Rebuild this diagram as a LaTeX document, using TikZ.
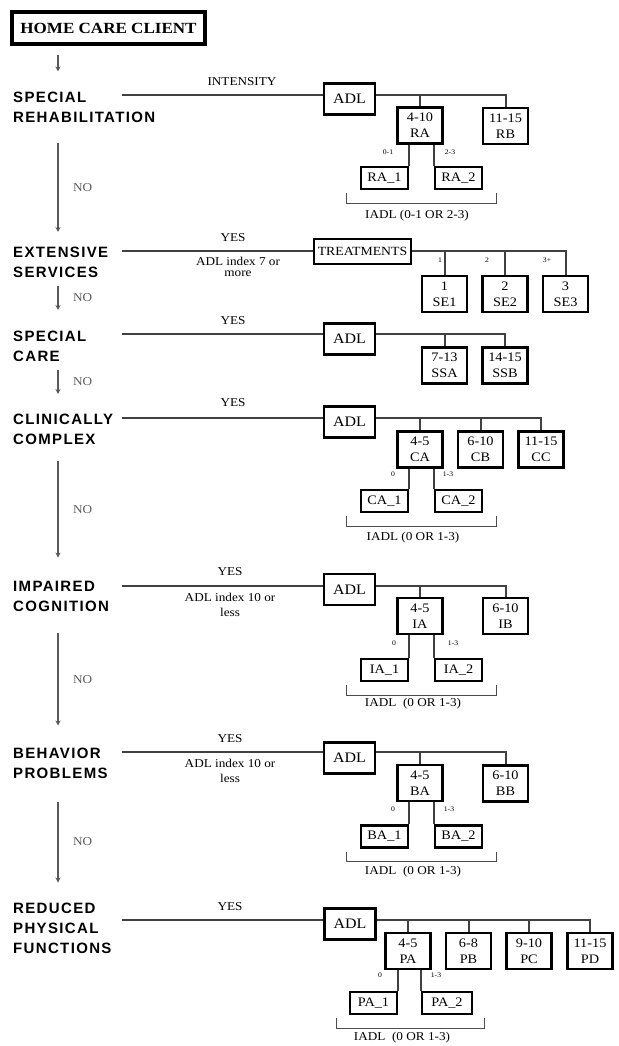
\documentclass[tikz,border=0pt]{standalone}
\usepackage{fontspec}
\setmainfont{Liberation Serif}[FakeStretch=1.1]
\newfontfamily\catfont{Liberation Sans}[LetterSpace=9]
\usetikzlibrary{arrows.meta, positioning, calc}
\tikzstyle{catlab} = [anchor=west, inner sep=0pt, align=left, font=\catfont\bfseries\fontsize{15}{20}\selectfont]
\tikzstyle{grpbox} = [rectangle, draw, line width=2.6pt, inner sep=0pt, minimum width=45pt, minimum height=36pt, align=center, font=\fontsize{13}{16}\selectfont]
\tikzstyle{subbox} = [grpbox, minimum width=47pt, minimum height=22pt]
\tikzstyle{adlbox} = [grpbox, minimum width=51pt, minimum height=31pt, font=\fontsize{14.5}{17}\selectfont]
\tikzstyle{note} = [inner sep=0pt, align=center, font=\fontsize{12}{14}\selectfont]
\tikzstyle{tinylab} = [inner sep=0pt, font=\fontsize{7}{8}\selectfont]
\tikzstyle{link} = [black!75, line width=2pt]
\tikzstyle{flow} = [black!65, line width=2pt, -{Stealth[length=5pt, width=5pt]}]
\tikzstyle{iadl} = [black!70, line width=1.3pt]

\begin{document}
\begin{tikzpicture}[x=1pt, y=-1pt]
    \useasboundingbox (0,0) rectangle (618,1046);

    % Client and categories
    \node[draw, line width=4pt, inner sep=0pt, minimum width=193pt, minimum height=32pt, font=\bfseries\fontsize{15.5}{18}\selectfont] (home) at (108.5,28) {HOME CARE CLIENT};
    \node[catlab] (rehab) at (13,107) {SPECIAL\\REHABILITATION};
    \node[catlab] (ext) at (13,262.5) {EXTENSIVE\\SERVICES};
    \node[catlab] (spc) at (13,346.5) {SPECIAL\\CARE};
    \node[catlab] (cli) at (13,429.5) {CLINICALLY\\COMPLEX};
    \node[catlab] (imp) at (13,596) {IMPAIRED\\COGNITION};
    \node[catlab] (beh) at (13,763) {BEHAVIOR\\PROBLEMS};
    \node[catlab] (red) at (13,928) {REDUCED\\PHYSICAL\\FUNCTIONS};

    % NO arrows
    \draw[flow] ([xshift=48pt,yshift=-9pt]home.south west) -- ([xshift=45pt,yshift=20pt]rehab.north west);
    \draw[flow] ([xshift=45pt,yshift=-20pt]rehab.south west) -- ([xshift=45pt,yshift=15pt]ext.north west) node[note, midway, right=14pt] (no1) {NO};
    \draw[flow] ([xshift=45pt,yshift=-8pt]ext.south west) -- ([xshift=45pt,yshift=21pt]spc.north west) node[note, midway, right=14pt] (no2) {NO};
    \draw[flow] ([xshift=45pt,yshift=-8pt]spc.south west) -- ([xshift=45pt,yshift=20pt]cli.north west) node[note, midway, right=14pt] (no3) {NO};
    \draw[flow] ([xshift=45pt,yshift=-16pt]cli.south west) -- ([xshift=45pt,yshift=23pt]imp.north west) node[note, midway, right=14pt] (no4) {NO};
    \draw[flow] ([xshift=45pt,yshift=-22pt]imp.south west) -- ([xshift=45pt,yshift=22pt]beh.north west) node[note, midway, right=14pt] (no5) {NO};
    \draw[flow] ([xshift=45pt,yshift=-23pt]beh.south west) -- ([xshift=45pt,yshift=20pt]red.north west) node[note, midway, right=14pt] (no6) {NO};

    % Special rehabilitation
    \coordinate (rR) at (122,95);
    \node[note] (intR) at (242,82) {INTENSITY};
    \node[adlbox] (adlR) at (349.5,99) {ADL};
    \node[grpbox] (ra) at (420,125.5) {4-10\\RA};
    \node[grpbox] (rb) at (505.5,126) {11-15\\RB};
    \node[subbox] (ra1) at (384.5,178) {RA\_1};
    \node[subbox] (ra2) at (458.5,178) {RA\_2};
    \node[tinylab] (ra1t) at (388,152) {0-1};
    \node[tinylab] (ra2t) at (450,152) {2-3};
    \draw[link] (rR) -- (rR -| adlR.west);
    \draw[link] (rR -| adlR.east) -| (rb.north);
    \draw[link] (rR -| ra.north) -- (ra.north);
    \draw[link] (ra.south -| ra1.north east) -- (ra1.north east);
    \draw[link] (ra.south -| ra2.north west) -- (ra2.north west);
    \draw[iadl] ([shift={(-13pt,-3pt)}]ra1.south west) -- ++(0,10) -| ([shift={(13pt,-3pt)}]ra2.south east);
    \node[note] (iadlR) at (417,216) {IADL (0-1 OR 2-3)};

    % Extensive services
    \coordinate (rE) at (122,251);
    \node[note] (yesE) at (233,238) {YES};
    \node[note, font=\fontsize{12}{11}\selectfont] (idxE) at (238,266.5) {ADL index 7 or\\more};
    \node[grpbox, minimum width=97pt, minimum height=25pt, font=\fontsize{12.5}{14}\selectfont] (treat) at (362.5,251.5) {TREATMENTS};
    \node[grpbox] (se1) at (444.5,294) {1\\SE1};
    \node[grpbox] (se2) at (505,294) {2\\SE2};
    \node[grpbox] (se3) at (565.5,294) {3\\SE3};
    \node[tinylab] (se1t) at (440,260) {1};
    \node[tinylab] (se2t) at (487,260) {2};
    \node[tinylab] (se3t) at (547,260) {3+};
    \draw[link] (rE) -- (rE -| treat.west);
    \draw[link] (rE -| treat.east) -| (se3.north);
    \draw[link] (rE -| se1.north) -- (se1.north);
    \draw[link] (rE -| se2.north) -- (se2.north);

    % Special care
    \coordinate (rS) at (122,334);
    \node[note] (yesS) at (233,321) {YES};
    \node[adlbox] (adlS) at (349.5,339) {ADL};
    \node[grpbox] (ssa) at (444.5,365.5) {7-13\\SSA};
    \node[grpbox] (ssb) at (505,365.5) {14-15\\SSB};
    \draw[link] (rS) -- (rS -| adlS.west);
    \draw[link] (rS -| adlS.east) -| (ssb.north);
    \draw[link] (rS -| ssa.north) -- (ssa.north);

    % Clinically complex
    \coordinate (rC) at (122,418);
    \node[note] (yesC) at (233,403) {YES};
    \node[adlbox] (adlC) at (349.5,422) {ADL};
    \node[grpbox] (ca) at (420,449.5) {4-5\\CA};
    \node[grpbox] (cb) at (480.5,449.5) {6-10\\CB};
    \node[grpbox] (cc) at (541,449.5) {11-15\\CC};
    \node[subbox] (ca1) at (384.5,501) {CA\_1};
    \node[subbox] (ca2) at (458.5,501) {CA\_2};
    \node[tinylab] (ca1t) at (393,474) {0};
    \node[tinylab] (ca2t) at (448,474) {1-3};
    \draw[link] (rC) -- (rC -| adlC.west);
    \draw[link] (rC -| adlC.east) -| (cc.north);
    \draw[link] (rC -| ca.north) -- (ca.north);
    \draw[link] (rC -| cb.north) -- (cb.north);
    \draw[link] (ca.south -| ca1.north east) -- (ca1.north east);
    \draw[link] (ca.south -| ca2.north west) -- (ca2.north west);
    \draw[iadl] ([shift={(-13pt,-3pt)}]ca1.south west) -- ++(0,10) -| ([shift={(13pt,-3pt)}]ca2.south east);
    \node[note] (iadlC) at (413,538) {IADL (0 OR 1-3)};

    % Impaired cognition
    \coordinate (rI) at (122,586);
    \node[note] (yesI) at (230,572) {YES};
    \node[note, font=\fontsize{12}{15}\selectfont] (idxI) at (230,604.5) {ADL index 10 or\\less};
    \node[adlbox] (adlI) at (349.5,589.5) {ADL};
    \node[grpbox] (ia) at (420,616) {4-5\\IA};
    \node[grpbox] (ib) at (505.5,616) {6-10\\IB};
    \node[subbox] (ia1) at (384.5,670) {IA\_1};
    \node[subbox] (ia2) at (458.5,670) {IA\_2};
    \node[tinylab] (ia1t) at (394,643) {0};
    \node[tinylab] (ia2t) at (453,643) {1-3};
    \draw[link] (rI) -- (rI -| adlI.west);
    \draw[link] (rI -| adlI.east) -| (ib.north);
    \draw[link] (rI -| ia.north) -- (ia.north);
    \draw[link] (ia.south -| ia1.north east) -- (ia1.north east);
    \draw[link] (ia.south -| ia2.north west) -- (ia2.north west);
    \draw[iadl] ([shift={(-13pt,-3pt)}]ia1.south west) -- ++(0,10) -| ([shift={(13pt,-3pt)}]ia2.south east);
    \node[note] (iadlI) at (413,704) {IADL\ \ (0 OR 1-3)};

    % Behavior problems
    \coordinate (rB) at (122,752);
    \node[note] (yesB) at (230,739) {YES};
    \node[note, font=\fontsize{12}{15}\selectfont] (idxB) at (230,770.5) {ADL index 10 or\\less};
    \node[adlbox] (adlB) at (349.5,758) {ADL};
    \node[grpbox] (ba) at (420,783) {4-5\\BA};
    \node[grpbox] (bb) at (505.5,783.5) {6-10\\BB};
    \node[subbox] (ba1) at (384.5,836.5) {BA\_1};
    \node[subbox] (ba2) at (458.5,836.5) {BA\_2};
    \node[tinylab] (ba1t) at (393,809) {0};
    \node[tinylab] (ba2t) at (449,809) {1-3};
    \draw[link] (rB) -- (rB -| adlB.west);
    \draw[link] (rB -| adlB.east) -| (bb.north);
    \draw[link] (rB -| ba.north) -- (ba.north);
    \draw[link] (ba.south -| ba1.north east) -- (ba1.north east);
    \draw[link] (ba.south -| ba2.north west) -- (ba2.north west);
    \draw[iadl] ([shift={(-13pt,-3pt)}]ba1.south west) -- ++(0,10) -| ([shift={(13pt,-3pt)}]ba2.south east);
    \node[note] (iadlB) at (413,872) {IADL\ \ (0 OR 1-3)};

    % Reduced physical functions
    \coordinate (rP) at (122,920);
    \node[note] (yesP) at (230,907) {YES};
    \node[adlbox] (adlP) at (350,924) {ADL};
    \node[grpbox] (pa) at (408,951) {4-5\\PA};
    \node[grpbox] (pb) at (468.5,951) {6-8\\PB};
    \node[grpbox] (pc) at (529,951) {9-10\\PC};
    \node[grpbox] (pd) at (590,951) {11-15\\PD};
    \node[subbox] (pa1) at (373.5,1003) {PA\_1};
    \node[subbox, minimum width=50pt] (pa2) at (447,1003) {PA\_2};
    \node[tinylab] (pa1t) at (380,975) {0};
    \node[tinylab] (pa2t) at (436,975) {1-3};
    \draw[link] (rP) -- (rP -| adlP.west);
    \draw[link] (rP -| adlP.east) -| (pd.north);
    \draw[link] (rP -| pa.north) -- (pa.north);
    \draw[link] (rP -| pb.north) -- (pb.north);
    \draw[link] (rP -| pc.north) -- (pc.north);
    \draw[link] (pa.south -| pa1.north east) -- (pa1.north east);
    \draw[link] (pa.south -| pa2.north west) -- (pa2.north west);
    \draw[iadl] ([shift={(-12pt,-3pt)}]pa1.south west) -- ++(0,10) -| ([shift={(11pt,-3pt)}]pa2.south east);
    \node[note] (iadlP) at (402,1038) {IADL\ \ (0 OR 1-3)};

\end{tikzpicture}
\end{document}
